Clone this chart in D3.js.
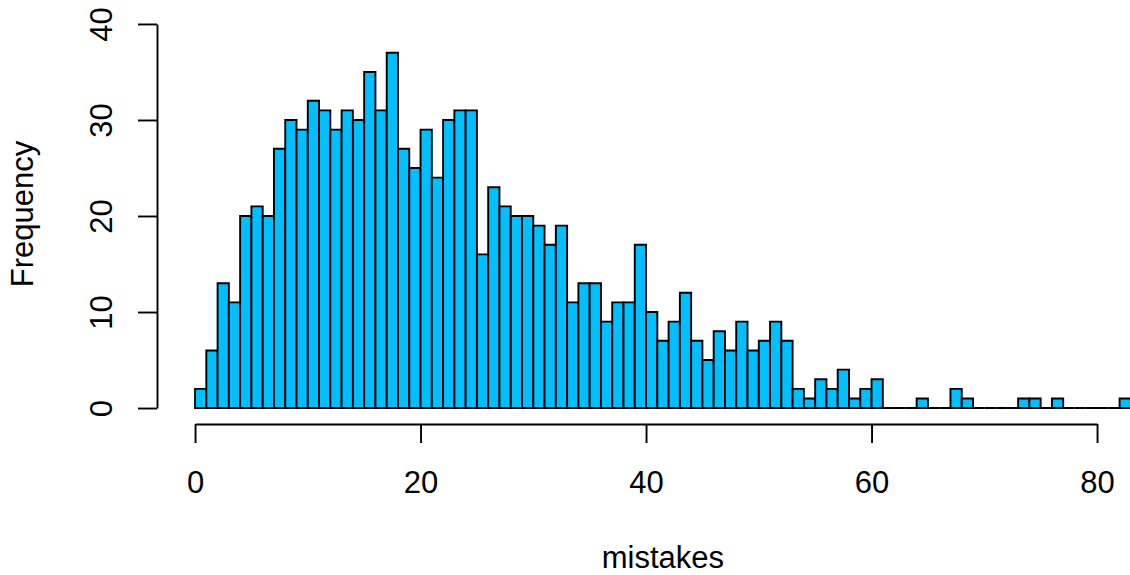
<!DOCTYPE html>
<html>
<head>
<meta charset="utf-8">
<script src="https://cdn.jsdelivr.net/npm/d3@7"></script>
<style>
  body { margin: 0; background: #fff; }
  svg { display: block; font-family: "Liberation Sans", Arial, Helvetica, sans-serif; }
</style>
</head>
<body>
<div class="visHolder"></div>
<script>
// histogram of mistakes, one unit wide bins
var breaks = [0, 1, 2, 3, 4, 5, 6, 7, 8, 9, 10, 11, 12, 13, 14, 15, 16, 17, 18, 19,
    20, 21, 22, 23, 24, 25, 26, 27, 28, 29, 30, 31, 32, 33, 34, 35, 36, 37, 38, 39,
    40, 41, 42, 43, 44, 45, 46, 47, 48, 49, 50, 51, 52, 53, 54, 55, 56, 57, 58, 59,
    60, 61, 62, 63, 64, 65, 66, 67, 68, 69, 70, 71, 72, 73, 74, 75, 76, 77, 78, 79,
    80, 81, 82, 83];

var counts = [2, 6, 13, 11, 20, 21, 20, 27, 30, 29,
    32, 31, 29, 31, 30, 35, 31, 37, 27, 25,
    29, 24, 30, 31, 31, 16, 23, 21, 20, 20,
    19, 17, 19, 11, 13, 13, 9, 11, 11, 17,
    10, 7, 9, 12, 7, 5, 8, 6, 9, 6,
    7, 9, 7, 2, 1, 3, 2, 4, 1, 2,
    3, 0, 0, 0, 1, 0, 0, 2, 1, 0,
    0, 0, 0, 1, 1, 0, 1, 0, 0, 0,
    0, 0, 1];

var xTicks = [0, 20, 40, 60, 80];
var yTicks = [0, 10, 20, 30, 40];

var width = 1130,
    height = 575,
    fontSize = '31px';

var svg = d3
    .select('.visHolder')
    .append('svg')
    .attr('width', width)
    .attr('height', height);

// R style: limits padded by 4%
var xScale = d3.scaleLinear().domain([-3.32, 86.32]).range([157.6, 1168.3]);
var yScale = d3.scaleLinear().domain([-1.6, 41.6]).range([423.4, 8.6]);

var bins = counts.map(function (c, i) {
    return { x0: breaks[i], x1: breaks[i + 1], count: c };
});

// paths so that empty bins still show their flat outline
svg.append('g')
    .selectAll('path')
    .data(bins)
    .enter()
    .append('path')
    .attr('d', function (d) {
        var a = xScale(d.x0), b = xScale(d.x1);
        var y0 = yScale(0), y1 = yScale(d.count);
        return 'M' + a + ',' + y0 + 'H' + b + 'V' + y1 + 'H' + a + 'Z';
    })
    .attr('fill', '#00BFFF')
    .attr('stroke', '#000')
    .attr('stroke-width', 1.9);

var xAxisScale = d3.scaleLinear().domain([0, 80]).range([xScale(0), xScale(80)]);
var xAxis = svg.append('g')
    .attr('transform', 'translate(0, 424)')
    .call(d3.axisBottom(xAxisScale).tickValues(xTicks).tickSize(19).tickSizeOuter(0));

var yAxisScale = d3.scaleLinear().domain([0, 40]).range([yScale(0), yScale(40)]);
var yAxis = svg.append('g')
    .attr('transform', 'translate(157, 0)')
    .call(d3.axisLeft(yAxisScale).tickValues(yTicks).tickSize(19).tickSizeOuter(0));

[xAxis, yAxis].forEach(function (g) {
    g.selectAll('path, line').attr('stroke', '#000').attr('stroke-width', 1.9);
    g.selectAll('text').attr('fill', '#000').style('font-size', fontSize)
        .style('font-family', '"Liberation Sans", Arial, Helvetica, sans-serif');
});

xAxis.selectAll('text').attr('y', 69).attr('dy', 0);
yAxis.selectAll('text')
    .attr('x', 0)
    .attr('dy', 0)
    .attr('text-anchor', 'middle')
    .attr('transform', 'translate(-45, 0) rotate(-90)');

svg.append('text')
    .attr('x', xScale(41.5))
    .attr('y', 568)
    .attr('text-anchor', 'middle')
    .style('font-size', fontSize)
    .text('mistakes');

svg.append('text')
    .attr('transform', 'translate(33, 214) rotate(-90)')
    .attr('text-anchor', 'middle')
    .style('font-size', fontSize)
    .text('Frequency');
</script>
</body>
</html>
